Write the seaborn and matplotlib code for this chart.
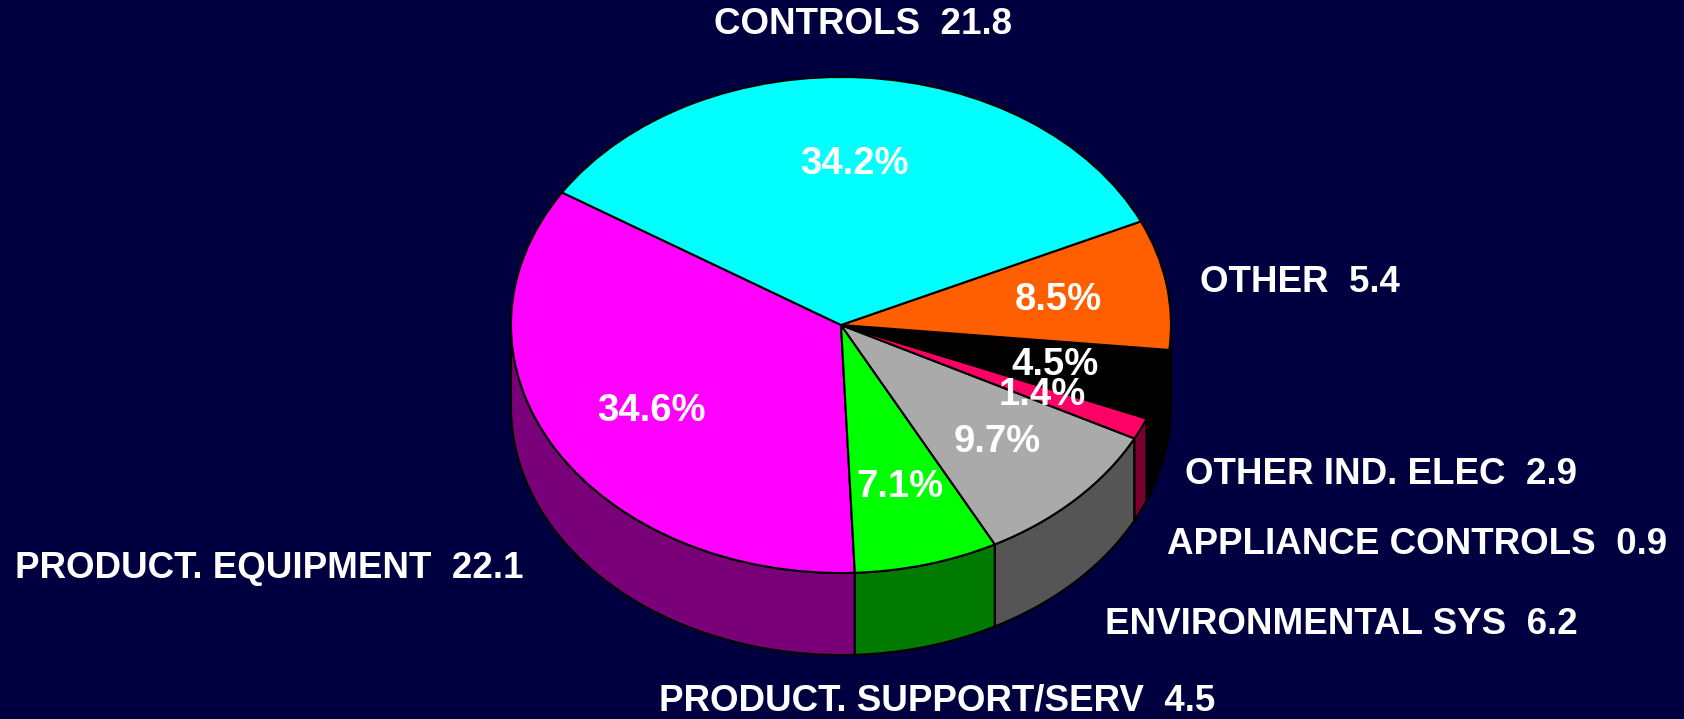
import numpy as np
import matplotlib
matplotlib.use("Agg")
import matplotlib.pyplot as plt
import seaborn as sns

# ---- data (counter-clockwise order starting at the upper-left boundary) ----
categories = ["PRODUCT. EQUIPMENT", "PRODUCT. SUPPORT/SERV", "ENVIRONMENTAL SYS",
              "APPLIANCE CONTROLS", "OTHER IND. ELEC", "OTHER", "CONTROLS"]
values = [22.1, 4.5, 6.2, 0.9, 2.9, 5.4, 21.8]
top_colors = ["#FF00FF", "#00FF00", "#AAAAAA", "#FF0066", "#000000", "#FF5F00", "#00FFFF"]
side_colors = ["#7A007A", "#007A00", "#555555", "#7A0030", "#000000", "#7A2E00", "#007A7A"]

# ---- layout (pixels in the 1684x719 canvas) ----
W, H = 1684, 719
cx, cy, rx, ry, depth = 841, 325, 330, 248, 82
start_angle = 147.7
bg = "#000040"

name_pos = {  # (x, y, ha)
    "CONTROLS": (863, 24, "center"),
    "OTHER": (1200, 282, "left"),
    "OTHER IND. ELEC": (1185, 474, "left"),
    "APPLIANCE CONTROLS": (1167, 545, "left"),
    "ENVIRONMENTAL SYS": (1105, 624, "left"),
    "PRODUCT. SUPPORT/SERV": (659, 701, "left"),
    "PRODUCT. EQUIPMENT": (15, 569, "left"),
}
pct_pos = {
    "CONTROLS": (854, 164),
    "OTHER": (1058, 300),
    "OTHER IND. ELEC": (1055, 365),
    "APPLIANCE CONTROLS": (1042, 395),
    "ENVIRONMENTAL SYS": (997, 442),
    "PRODUCT. SUPPORT/SERV": (900, 487),
    "PRODUCT. EQUIPMENT": (651, 411),
}

sns.set_theme(style="white")
plt.rcParams["font.family"] = ["Liberation Sans", "DejaVu Sans"]

fig = plt.figure(figsize=(W / 100, H / 100), dpi=100, facecolor=bg)
ax = fig.add_axes([0, 0, 1, 1])
ax.set_facecolor(bg)

def px(x, y):
    return (x - cx) / rx, (cy - y) / ry

d = depth / ry
total = sum(values)
edges = np.concatenate([[0], np.cumsum(values)]) / total * 360 + start_angle

# side walls (front half: 180..360 degrees)
for i in range(len(values)):
    a, b = edges[i], edges[i + 1]
    for shift in (0, 360, -360):
        lo = max(a + shift, 180)
        hi = min(b + shift, 360)
        if hi > lo:
            t = np.radians(np.linspace(lo, hi, 200))
            xs = np.concatenate([np.cos(t), np.cos(t[::-1])])
            ys = np.concatenate([np.sin(t), np.sin(t[::-1]) - d])
            ax.fill(xs, ys, facecolor=side_colors[i], edgecolor="black", linewidth=1.5, zorder=1)

# top face
ax.pie(values, colors=top_colors, startangle=start_angle, counterclock=True,
       radius=1, center=(0, 0), frame=True,
       wedgeprops=dict(edgecolor="black", linewidth=1.5, zorder=2))
ax.set_xlim(-cx / rx, (W - cx) / rx)
ax.set_ylim(-(H - cy) / ry, cy / ry)
ax.set_aspect("auto")
ax.axis("off")

for name, v in zip(categories, values):
    x, y, ha = name_pos[name]
    ax.text(*px(x, y), f"{name}  {v:.1f}", color="white", fontsize=26.5,
            fontweight="bold", ha=ha, va="center", zorder=5)
    x, y = pct_pos[name]
    ax.text(*px(x, y), f"{v / total * 100:.1f}%", color="white", fontsize=27.5,
            fontweight="bold", ha="center", va="center", zorder=5)

fig.savefig("out.png", dpi=100, facecolor=bg)
